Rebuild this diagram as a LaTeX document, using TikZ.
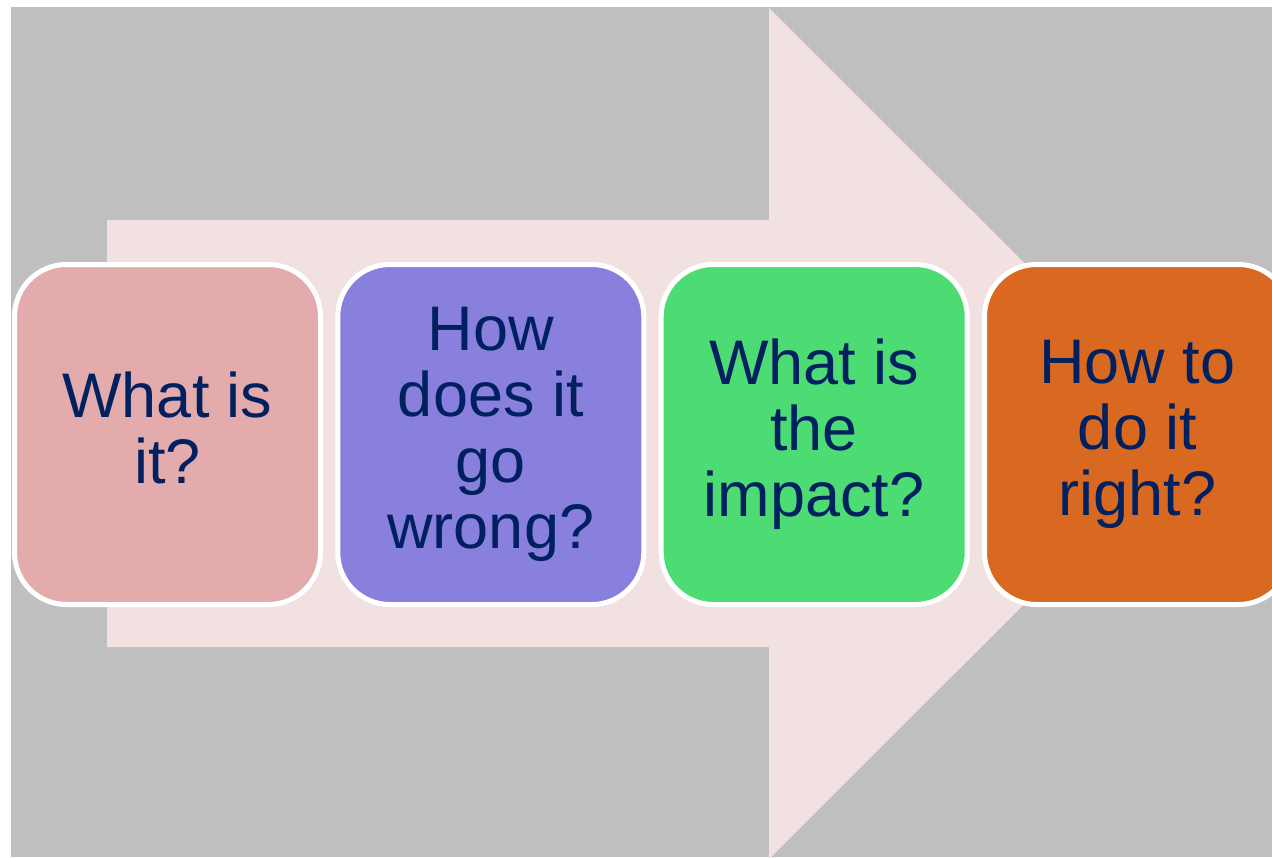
\documentclass[tikz,border=0pt]{standalone}
\usepackage{fontspec}
\setmainfont{Liberation Sans}
\definecolor{bggray}{RGB}{191,191,191}
\definecolor{arrowpink}{RGB}{242,225,225}
\definecolor{boxpink}{RGB}{227,171,171}
\definecolor{boxviolet}{RGB}{137,128,221}
\definecolor{boxgreen}{RGB}{77,220,116}
\definecolor{boxorange}{RGB}{217,105,32}
\definecolor{navytext}{RGB}{0,32,96}
\tikzset{
  stepbox/.style={draw=white, line width=2.5pt, rounded corners=26pt,
    minimum width=153pt, minimum height=170pt, inner sep=0pt,
    align=center, text=navytext, font=\fontsize{31.5}{33}\selectfont}
}
\begin{document}
\begin{tikzpicture}[x=0.5pt,y=-0.5pt]
\useasboundingbox (0,0) rectangle (1272,857);
\clip (0,0) rectangle (1272,857);
\fill[white] (0,0) rectangle (1272,857);
\fill[bggray] (11,7) rectangle (1272,857);
\fill[arrowpink] (107,220) -- (769,220) -- (769,8) -- (1195,433.5) -- (769,859) -- (769,647) -- (107,647) -- cycle;
\node[stepbox, fill=boxpink] (b1) at (167.5,434.5) {What is\\it?\vphantom{g}};
\node[stepbox, fill=boxviolet] (b2) at (490.8,434.5) {How\\does it\\go\\wrong?};
\node[stepbox, fill=boxgreen] (b3) at (814.2,434.5) {What is\\the\\impact?};
\node[stepbox, fill=boxorange] (b4) at (1137.5,434.5) {How to\\do it\\right?};
\end{tikzpicture}
\end{document}
